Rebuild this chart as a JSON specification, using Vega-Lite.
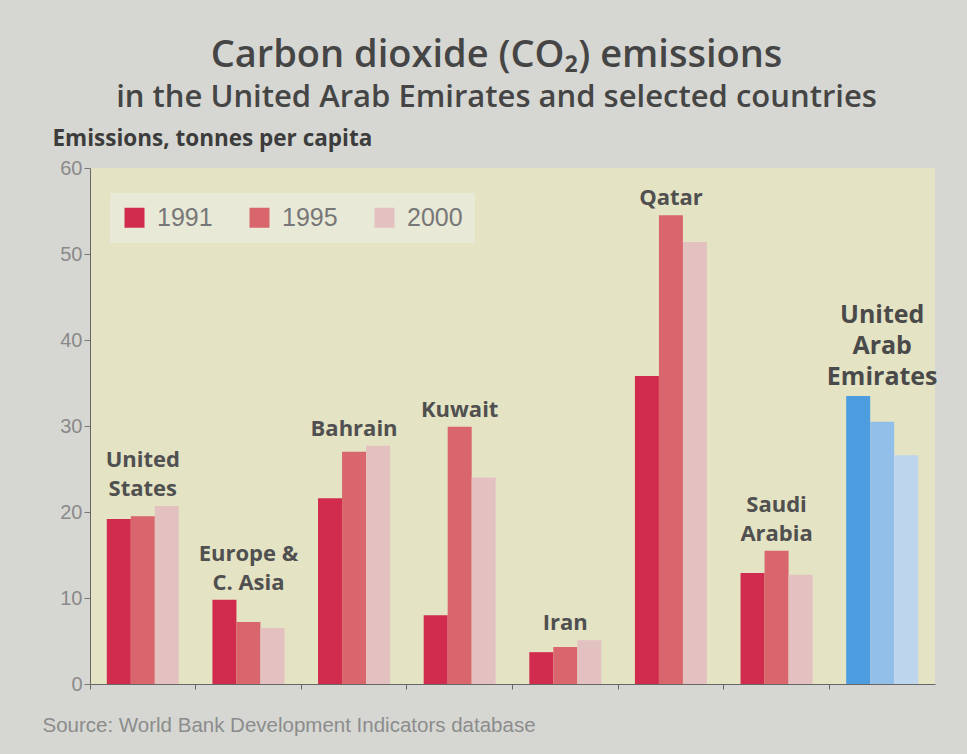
{
  "$schema": "https://vega.github.io/schema/vega-lite/v6.json",
  "width": 845,
  "height": 516,
  "autosize": "none",
  "padding": {"left": 90, "top": 168, "right": 32, "bottom": 70},
  "background": "#d6d7d3",
  "title": {
    "text": "Carbon dioxide (CO₂) emissions",
    "subtitle": "in the United Arab Emirates and selected countries",
    "anchor": "middle",
    "dx": -16,
    "offset": 14,
    "font": "Open Sans",
    "fontSize": 38,
    "fontWeight": 600,
    "color": "#454545",
    "subtitleFont": "Open Sans",
    "subtitleFontSize": 31,
    "subtitleFontWeight": 600,
    "subtitleColor": "#454545",
    "subtitlePadding": 8
  },
  "config": {
    "view": {"fill": "#e4e3c3", "stroke": null}
  },
  "datasets": {
    "emissions": [
      {"country": "United States", "year": "1991", "value": 19.2},
      {"country": "United States", "year": "1995", "value": 19.5},
      {"country": "United States", "year": "2000", "value": 20.7},
      {"country": "Europe & C. Asia", "year": "1991", "value": 9.8},
      {"country": "Europe & C. Asia", "year": "1995", "value": 7.2},
      {"country": "Europe & C. Asia", "year": "2000", "value": 6.5},
      {"country": "Bahrain", "year": "1991", "value": 21.6},
      {"country": "Bahrain", "year": "1995", "value": 27.0},
      {"country": "Bahrain", "year": "2000", "value": 27.7},
      {"country": "Kuwait", "year": "1991", "value": 8.0},
      {"country": "Kuwait", "year": "1995", "value": 29.9},
      {"country": "Kuwait", "year": "2000", "value": 24.0},
      {"country": "Iran", "year": "1991", "value": 3.7},
      {"country": "Iran", "year": "1995", "value": 4.3},
      {"country": "Iran", "year": "2000", "value": 5.1},
      {"country": "Qatar", "year": "1991", "value": 35.8},
      {"country": "Qatar", "year": "1995", "value": 54.5},
      {"country": "Qatar", "year": "2000", "value": 51.4},
      {"country": "Saudi Arabia", "year": "1991", "value": 12.9},
      {"country": "Saudi Arabia", "year": "1995", "value": 15.5},
      {"country": "Saudi Arabia", "year": "2000", "value": 12.7},
      {"country": "United Arab Emirates", "year": "1991", "value": 33.5},
      {"country": "United Arab Emirates", "year": "1995", "value": 30.5},
      {"country": "United Arab Emirates", "year": "2000", "value": 26.6}
    ],
    "labels": [
      {"country": "United States", "label": "United\nStates"},
      {"country": "Europe & C. Asia", "label": "Europe &\nC. Asia"},
      {"country": "Bahrain", "label": "Bahrain"},
      {"country": "Kuwait", "label": "Kuwait"},
      {"country": "Iran", "label": "Iran"},
      {"country": "Qatar", "label": "Qatar"},
      {"country": "Saudi Arabia", "label": "Saudi\nArabia"},
      {"country": "United Arab Emirates", "label": "United\nArab\nEmirates"}
    ]
  },
  "data": {"name": "emissions"},
  "encoding": {
    "x": {
      "field": "country",
      "type": "nominal",
      "sort": null,
      "scale": {"paddingInner": 0, "paddingOuter": 0},
      "axis": {
        "labels": false,
        "bandPosition": 0,
        "domainColor": "#666666",
        "tickColor": "#666666",
        "tickSize": 5,
        "title": "Source: World Bank Development Indicators database",
        "titleFont": "Liberation Sans",
        "titleFontSize": 20.5,
        "titleFontWeight": "normal",
        "titleColor": "#8c8c8c",
        "titleAlign": "left",
        "titleAnchor": "start",
        "titleBaseline": "middle",
        "titleX": -48,
        "titleY": 41
      }
    }
  },
  "layer": [
    {
      "transform": [{"filter": "datum.country !== 'United Arab Emirates'"}],
      "mark": {"type": "bar"},
      "encoding": {
        "xOffset": {
          "field": "year",
          "type": "nominal",
          "scale": {"paddingInner": 0, "paddingOuter": 0.7}
        },
        "y": {
          "field": "value",
          "type": "quantitative",
          "scale": {"domain": [0, 60]},
          "axis": {
            "values": [0, 10, 20, 30, 40, 50, 60],
            "grid": false,
            "domainColor": "#666666",
            "tickColor": "#777777",
            "tickSize": 6,
            "labelFont": "Liberation Sans",
            "labelFontSize": 20,
            "labelColor": "#8a8a8a",
            "labelPadding": 2,
            "title": "Emissions, tonnes per capita",
            "titleFont": "Open Sans",
            "titleFontSize": 22.5,
            "titleFontWeight": 700,
            "titleColor": "#3c3c3c",
            "titleAngle": 0,
            "titleAlign": "left",
            "titleBaseline": "alphabetic",
            "titleX": -38,
            "titleY": -23
          }
        },
        "color": {
          "field": "year",
          "type": "nominal",
          "scale": {"domain": ["1991", "1995", "2000"], "range": ["#d12c4e", "#d9666c", "#e3c1c1"]},
          "legend": {
            "title": null,
            "orient": "none",
            "legendX": 20,
            "legendY": 25,
            "direction": "horizontal",
            "fillColor": "#e9e9d8",
            "padding": 12,
            "symbolType": "square",
            "symbolSize": 400,
            "symbolStrokeWidth": 0,
            "labelFont": "Liberation Sans",
            "labelFontSize": 25,
            "labelColor": "#777777",
            "labelOffset": 10,
            "columnPadding": 34
          }
        }
      }
    },
    {
      "transform": [{"filter": "datum.country === 'United Arab Emirates'"}],
      "mark": {"type": "bar"},
      "encoding": {
        "xOffset": {
          "field": "year",
          "type": "nominal",
          "scale": {"paddingInner": 0, "paddingOuter": 0.7}
        },
        "y": {"field": "value", "type": "quantitative"},
        "color": {
          "field": "year",
          "type": "nominal",
          "scale": {"domain": ["1991", "1995", "2000"], "range": ["#4c9de0", "#92bfe9", "#bed5ee"]},
          "legend": null
        }
      }
    },
    {
      "transform": [
        {"aggregate": [{"op": "max", "field": "value", "as": "top"}], "groupby": ["country"]},
        {"lookup": "country", "from": {"data": {"name": "labels"}, "key": "country", "fields": ["label"]}},
        {"filter": "indexof(datum.label, '\\n') < 0"}
      ],
      "mark": {
        "type": "text",
        "baseline": "bottom",
        "dy": -5,
        "font": "Open Sans",
        "fontWeight": 700,
        "fontSize": 22,
        "color": "#505050"
      },
      "encoding": {
        "y": {"field": "top", "type": "quantitative"},
        "text": {"field": "label"}
      }
    },
    {
      "transform": [
        {"aggregate": [{"op": "max", "field": "value", "as": "top"}], "groupby": ["country"]},
        {"lookup": "country", "from": {"data": {"name": "labels"}, "key": "country", "fields": ["label"]}},
        {"filter": "indexof(datum.label, '\\n') >= 0 && datum.country !== 'United Arab Emirates'"}
      ],
      "mark": {
        "type": "text",
        "baseline": "bottom",
        "dy": -34,
        "font": "Open Sans",
        "fontWeight": 700,
        "fontSize": 22,
        "lineBreak": "\n",
        "lineHeight": 29,
        "color": "#505050"
      },
      "encoding": {
        "y": {"field": "top", "type": "quantitative"},
        "text": {"field": "label"}
      }
    },
    {
      "transform": [
        {"aggregate": [{"op": "max", "field": "value", "as": "top"}], "groupby": ["country"]},
        {"lookup": "country", "from": {"data": {"name": "labels"}, "key": "country", "fields": ["label"]}},
        {"filter": "datum.country === 'United Arab Emirates'"}
      ],
      "mark": {
        "type": "text",
        "baseline": "bottom",
        "dy": -68,
        "font": "Open Sans",
        "fontWeight": 700,
        "fontSize": 25,
        "lineBreak": "\n",
        "lineHeight": 31,
        "color": "#4a4a4a"
      },
      "encoding": {
        "y": {"field": "top", "type": "quantitative"},
        "text": {"field": "label"}
      }
    }
  ],
  "resolve": {"scale": {"color": "independent"}}
}
